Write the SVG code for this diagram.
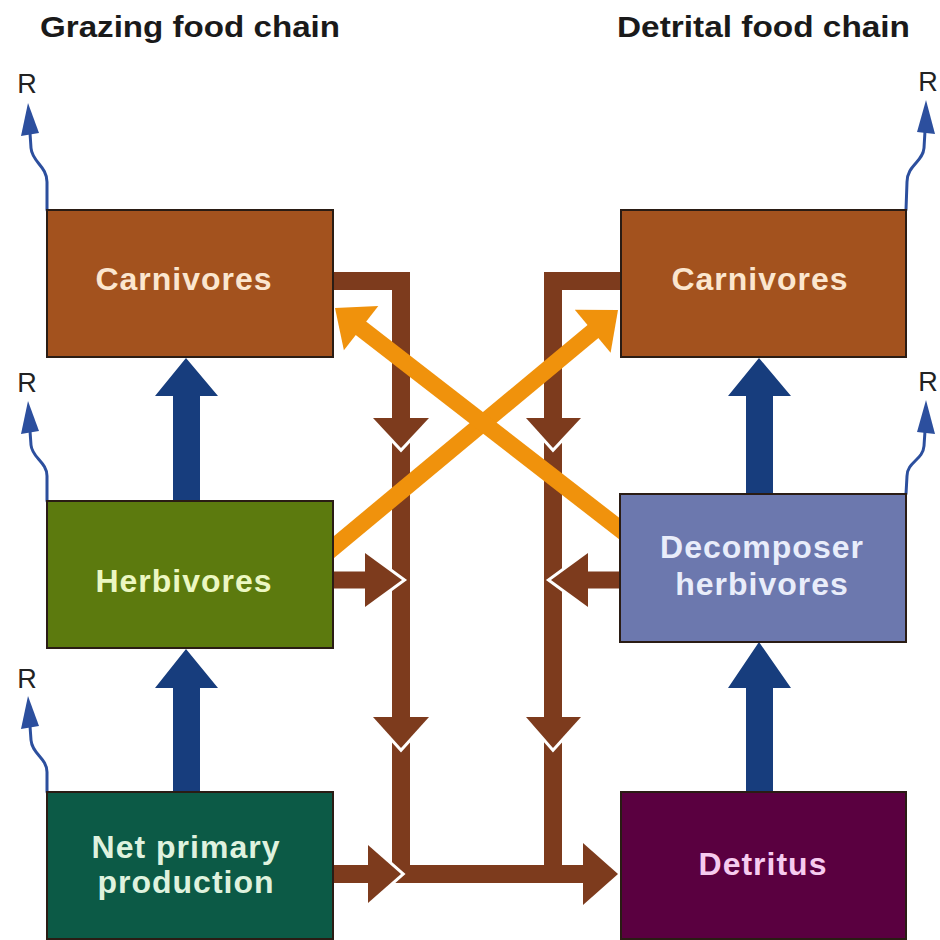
<svg xmlns="http://www.w3.org/2000/svg" width="940" height="940" viewBox="0 0 940 940">
<style>
.title{font-family:"Liberation Sans",Arial,sans-serif;font-weight:bold;font-size:30px;fill:#1a1a1a}
.r{font-family:"Liberation Sans",Arial,sans-serif;font-size:27px;fill:#222}
.lbl{font-family:"Liberation Sans",Arial,sans-serif;font-weight:bold;font-size:32px;letter-spacing:1px;text-anchor:middle}
.box{stroke:#2a1c14;stroke-width:2}
.brown{fill:#7d3b1d}
.bl{stroke:#7d3b1d;fill:none}
.notch{fill:none;stroke:#fff;stroke-width:6;stroke-linejoin:miter}
.org{stroke:#f0920c;stroke-width:17;fill:none}
.orgh{fill:#f0920c}
.blue{fill:#173d7d}
.sq{fill:none;stroke:#2c4f9e;stroke-width:3;stroke-linecap:round}
.sqh{fill:#2c4f9e}
</style>
<rect width="940" height="940" fill="#fff"/>
<text class="title" x="40" y="37" textLength="300" lengthAdjust="spacingAndGlyphs">Grazing food chain</text>
<text class="title" x="617" y="37" textLength="293" lengthAdjust="spacingAndGlyphs">Detrital food chain</text>

<g id="connectors">
  <!-- respiration squiggles -->
  <g id="resp">
    <text class="r" x="27" y="93" text-anchor="middle">R</text>
    <polygon class="sqh" points="28,103 21,136 39,133"/>
    <path class="sq" d="M30,133 L31,148 C32,162 47,166 47,182 L47,210"/>
    <text class="r" x="27" y="392" text-anchor="middle">R</text>
    <polygon class="sqh" points="28,401 21,434 39,431"/>
    <path class="sq" d="M30,431 L31,445 C32,458 47,462 47,476 L47,501"/>
    <text class="r" x="27" y="688" text-anchor="middle">R</text>
    <polygon class="sqh" points="28,696 21,729 39,726"/>
    <path class="sq" d="M30,726 L31,740 C32,754 47,758 47,772 L47,792"/>
    <text class="r" x="928" y="91" text-anchor="middle">R</text>
    <polygon class="sqh" points="926,100 917,132 935,134"/>
    <path class="sq" d="M925,131 L924,148 C923,162 907,165 907,182 L906,210"/>
    <text class="r" x="928" y="391" text-anchor="middle">R</text>
    <polygon class="sqh" points="926,400 917,432 935,434"/>
    <path class="sq" d="M925,431 L924,446 C923,460 907,462 907,476 L906,494"/>
  </g>
  <!-- brown detritus flows -->
  <g id="brown-flows">
    <path class="bl" stroke-width="18" d="M330,281 L401,281 L401,883"/>
    <path class="bl" stroke-width="18" d="M625,281 L553,281 L553,883"/>
    <path class="bl" stroke-width="18" d="M392,874 L585,874"/>
    <path class="bl" stroke-width="17" d="M330,580 L367,580"/>
    <path class="bl" stroke-width="17" d="M585,580 L625,580"/>
    <path class="bl" stroke-width="18" d="M330,874 L370,874"/>
    <!-- arrowheads with white notch -->
    <polyline class="notch" points="373,418 401,448 429,418"/>
    <polygon class="brown" points="373,418 401,448 429,418"/>
    <polyline class="notch" points="373,717 401,748 429,717"/>
    <polygon class="brown" points="373,717 401,748 429,717"/>
    <polyline class="notch" points="526,418 553,448 581,418"/>
    <polygon class="brown" points="526,418 553,448 581,418"/>
    <polyline class="notch" points="526,717 553,748 581,717"/>
    <polygon class="brown" points="526,717 553,748 581,717"/>
    <polyline class="notch" points="365,553 402,580 365,607"/>
    <polygon class="brown" points="365,553 402,580 365,607"/>
    <polyline class="notch" points="588,553 551,580 588,607"/>
    <polygon class="brown" points="588,553 551,580 588,607"/>
    <polyline class="notch" points="368,845 401,874 368,903"/>
    <polygon class="brown" points="368,845 401,874 368,903"/>
    <polygon class="brown" points="583,843 618,874 583,905"/>
  </g>
  <!-- orange cross flows -->
  <g id="orange-flows">
    <line class="org" x1="328" y1="552" x2="596" y2="329"/>
    <polygon class="orgh" points="618,310 610.6,352.7 574.8,309.7"/>
    <line class="org" x1="625" y1="533" x2="358" y2="326"/>
    <polygon class="orgh" points="335,308 378.3,306.1 343.9,350.3"/>
  </g>
  <!-- blue trophic flows -->
  <g id="blue-flows">
    <polygon class="blue" points="173,502 173,396 155,396 186,358 218,396 200,396 200,502"/>
    <polygon class="blue" points="173,792 173,688 155,688 186,649 218,688 200,688 200,792"/>
    <polygon class="blue" points="746,495 746,396 728,396 759,358 791,396 773,396 773,495"/>
    <polygon class="blue" points="746,792 746,688 728,688 759,642 791,688 773,688 773,792"/>
  </g>
</g>

<g id="grazing-carnivores">
  <rect class="box" x="47" y="210" width="286" height="147" fill="#a3521e"/>
  <text class="lbl" x="184" y="290" fill="#fbe6cf">Carnivores</text>
</g>
<g id="herbivores">
  <rect class="box" x="47" y="501" width="286" height="147" fill="#5c7a0e"/>
  <text class="lbl" x="184" y="592" fill="#ecf7c2">Herbivores</text>
</g>
<g id="net-primary-production">
  <rect class="box" x="47" y="792" width="286" height="147" fill="#0c5a46"/>
  <text class="lbl" x="186" y="858" fill="#dff2de">Net primary</text>
  <text class="lbl" x="186" y="893" fill="#dff2de">production</text>
</g>
<g id="detrital-carnivores">
  <rect class="box" x="621" y="210" width="285" height="147" fill="#a3521e"/>
  <text class="lbl" x="760" y="290" fill="#fbe6cf">Carnivores</text>
</g>
<g id="decomposer-herbivores">
  <rect class="box" x="620" y="494" width="286" height="148" fill="#6c78ae"/>
  <text class="lbl" x="762" y="558" fill="#e9edfa">Decomposer</text>
  <text class="lbl" x="762" y="595" fill="#e9edfa">herbivores</text>
</g>
<g id="detritus">
  <rect class="box" x="621" y="792" width="285" height="147" fill="#5a0040"/>
  <text class="lbl" x="763" y="875" fill="#f6cbef">Detritus</text>
</g>
</svg>
